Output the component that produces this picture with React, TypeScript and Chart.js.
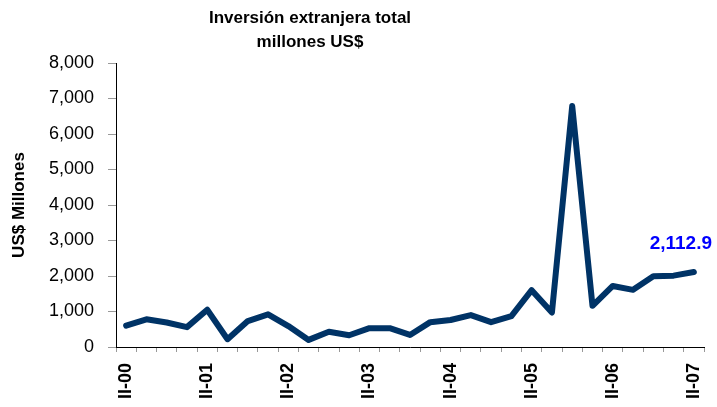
import React, { useEffect, useRef } from "react";
import { Chart, registerables } from "chart.js";

Chart.register(...registerables);

const categories = [
  "II-00", "III-00", "IV-00", "I-01",
  "II-01", "III-01", "IV-01", "I-02",
  "II-02", "III-02", "IV-02", "I-03",
  "II-03", "III-03", "IV-03", "I-04",
  "II-04", "III-04", "IV-04", "I-05",
  "II-05", "III-05", "IV-05", "I-06",
  "II-06", "III-06", "IV-06", "I-07",
  "II-07",
];

const values = [
  600, 780, 690, 560,
  1050, 220, 730, 920,
  590, 200, 430, 330,
  530, 530, 340, 700,
  760, 900, 700, 870,
  1600, 970, 6790, 1160,
  1720, 1610, 1990, 2010,
  2112.9,
];

const titleLines = ["Inversión extranjera total", "millones US$"];
const yAxisTitle = "US$ Millones";
const lastLabel = "2,112.9";

const FONT = 'Arial, "Liberation Sans", sans-serif';

const titlePlugin = {
  id: "customTitle",
  afterDraw(chart: any) {
    const ctx = chart.ctx;
    ctx.save();
    ctx.fillStyle = "#000";
    ctx.font = `bold 17px ${FONT}`;
    ctx.textAlign = "center";
    ctx.textBaseline = "middle";
    ctx.fillText(titleLines[0], 310, 18);
    ctx.fillText(titleLines[1], 310, 42);

    const meta = chart.getDatasetMeta(0);
    const last = meta.data[meta.data.length - 1];
    if (last) {
      ctx.fillStyle = "#0000FF";
      ctx.font = `bold 19px ${FONT}`;
      ctx.textBaseline = "alphabetic";
      ctx.fillText(lastLabel, last.x - 13, last.y - 23);
    }
    ctx.restore();
  },
};

export default function App() {
  const ref = useRef<HTMLCanvasElement>(null);

  useEffect(() => {
    if (!ref.current) return;
    const chart = new Chart(ref.current, {
      type: "line",
      data: {
        labels: categories,
        datasets: [
          {
            data: values,
            borderColor: "#003366",
            borderWidth: 6,
            pointRadius: 0,
            tension: 0,
            borderCapStyle: "round",
            borderJoinStyle: "round",
            fill: false,
          },
        ],
      },
      options: {
        responsive: false,
        animation: false,
        layout: { padding: { top: 63, right: 13, left: 0, bottom: 0 } },
        plugins: {
          legend: { display: false },
          tooltip: { enabled: false },
          title: { display: false },
        },
        scales: {
          x: {
            type: "category",
            offset: true,
            afterFit(scale: any) {
              scale.height = 60;
              scale.paddingLeft = 0;
              scale.paddingRight = 0;
            },
            grid: {
              offset: true,
              drawOnChartArea: false,
              drawTicks: true,
              tickLength: 5,
              color: "#999999",
            },
            border: { display: true, color: "#000", width: 1 },
            ticks: {
              autoSkip: false,
              maxRotation: 90,
              minRotation: 90,
              padding: 11,
              color: "#000",
              font: { family: FONT, size: 18, weight: "bold" },
              callback: (_v: any, i: number) => (i % 4 === 0 ? categories[i] : ""),
            },
          },
          y: {
            min: 0,
            max: 8000,
            afterFit(scale: any) {
              scale.width = 116;
              scale.paddingTop = 0;
              scale.paddingBottom = 0;
            },
            grid: {
              drawOnChartArea: false,
              drawTicks: true,
              tickLength: 8,
              color: "#999999",
            },
            border: { display: true, color: "#000", width: 1 },
            ticks: {
              stepSize: 1000,
              padding: 14,
              color: "#000",
              font: { family: FONT, size: 18 },
              callback: (v: any) => Number(v).toLocaleString("en-US"),
            },
            title: {
              display: true,
              text: yAxisTitle,
              color: "#000",
              font: { family: FONT, size: 17, weight: "bold" },
              padding: { top: 9, bottom: 0 },
            },
          },
        },
      },
      plugins: [titlePlugin],
    });
    return () => chart.destroy();
  }, []);

  return (
    <div style={{ position: "absolute", left: 0, top: 0, width: 717, height: 407, background: "#fff" }}>
      <canvas ref={ref} width={717} height={407} />
    </div>
  );
}
